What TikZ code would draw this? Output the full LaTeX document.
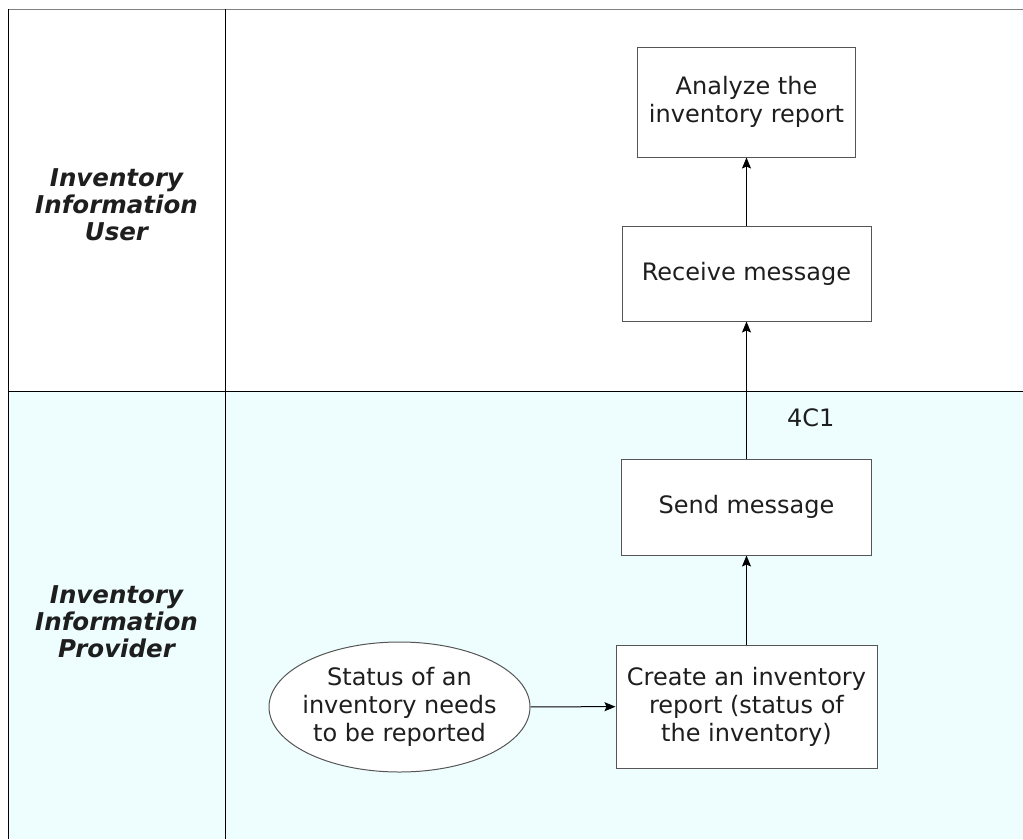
\documentclass[tikz,border=0pt]{standalone}
\usepackage{fontspec}
\setmainfont{DejaVu Sans}
\usepackage{xcolor}
\usetikzlibrary{arrows.meta,positioning,shapes.geometric}
\definecolor{lanecyan}{HTML}{EEFEFF}
\definecolor{boxgray}{HTML}{555555}
\definecolor{inkdark}{HTML}{1E1E1E}

\begin{document}
\begin{tikzpicture}[x=1pt,y=-1pt,
  act/.style={draw=boxgray,fill=white,line width=1pt,align=center,text=inkdark,
    font=\fontsize{24}{28}\selectfont,inner sep=0pt},
  trig/.style={ellipse,draw=boxgray,fill=white,line width=1pt,align=center,text=inkdark,
    font=\fontsize{24}{28}\selectfont,inner xsep=-30pt,inner ysep=0pt,
    minimum width=261pt,minimum height=130pt},
  lanelbl/.style={align=center,text=inkdark,font=\fontsize{24.5}{27}\selectfont\bfseries\itshape},
  lbl/.style={text=inkdark,font=\fontsize{24}{28}\selectfont,inner sep=0pt},
  flow/.style={->,line width=1pt,black},
  >={Stealth[length=11pt,width=9pt,inset=2pt]}]
  \useasboundingbox (0,0) rectangle (1023,839);
  % swimlanes
  \fill[lanecyan] (8,391) rectangle (1023,839);
  \draw[gray,line width=1pt] (8,9) -- (1023,9);
  \draw[black,line width=1pt] (8,9) -- (8,839);
  \draw[black,line width=1pt] (225,9) -- (225,839);
  \draw[black,line width=1pt] (8,391) -- (1023,391);
  \node[lanelbl] (userlane) at (116.5,205) {Inventory\\Information\\User};
  \node[lanelbl] (provlane) at (116.5,622) {Inventory\\Information\\Provider};
  % process
  \node[act,minimum width=261pt,minimum height=123pt] (create) at (746.5,706.5)
    {Create an inventory\\report (status of\\the inventory)};
  \node[trig] (status) at (399.5,707) {Status of an\\inventory needs\\to be reported};
  \node[act,minimum width=250pt,minimum height=96pt,above=89pt of create] (send) {Send message};
  \node[act,minimum width=249pt,minimum height=95pt,above=137pt of send] (receive) {Receive message};
  \node[act,minimum width=218pt,minimum height=110pt,above=68pt of receive] (analyze)
    {Analyze the\\inventory report};
  \draw[flow] (status) -- (create);
  \draw[flow] (create) -- (send);
  \draw[flow] (send) -- node[lbl,pos=0.3,right=40pt] (msgid) {4C1} (receive);
  \draw[flow] (receive) -- (analyze);
\end{tikzpicture}
\end{document}
